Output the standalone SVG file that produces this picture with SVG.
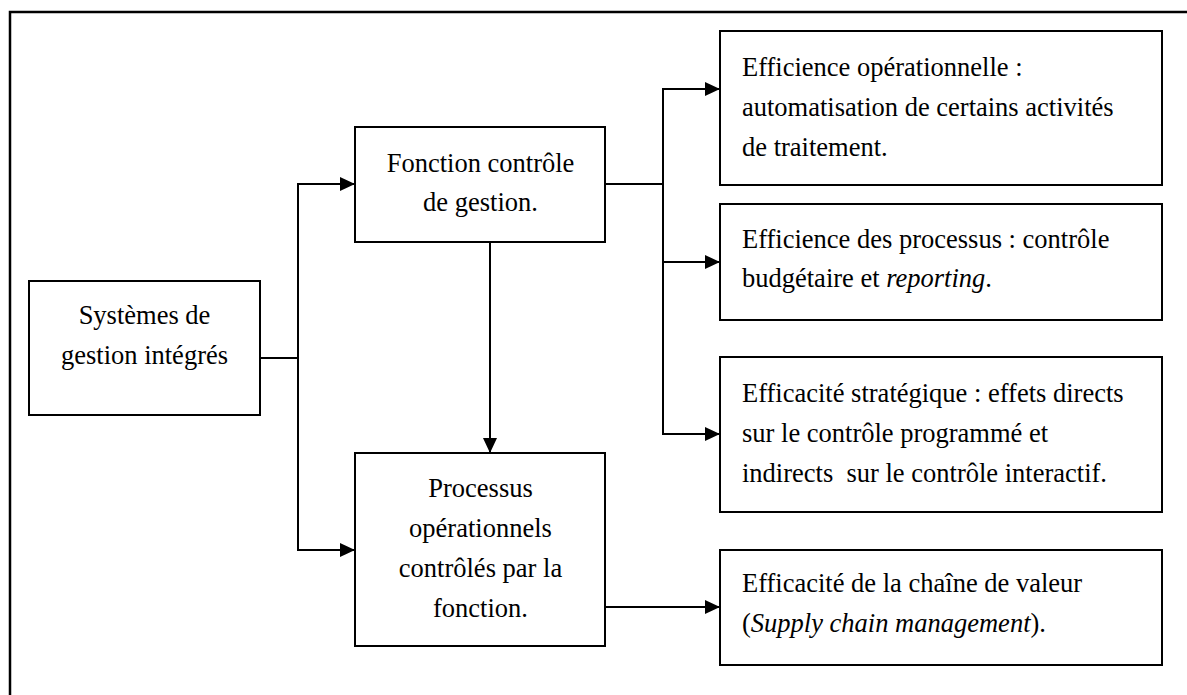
<svg xmlns="http://www.w3.org/2000/svg" width="1187" height="695" viewBox="0 0 1187 695">
<style>
.box{fill:#fff;stroke:#000;stroke-width:2}
.t{font-family:"Liberation Serif","Times New Roman",serif;font-size:26.5px;fill:#000;white-space:pre}
.c{text-anchor:middle}
.conn{fill:none;stroke:#000;stroke-width:2}
</style>
<defs>
<marker id="ah" markerUnits="userSpaceOnUse" markerWidth="15" markerHeight="14" refX="15" refY="7" orient="auto">
<path d="M0,0 L15,7 L0,14 z" fill="#000"/>
</marker>
</defs>
<rect width="1187" height="695" fill="#fff"/>
<path d="M10,695 V12 H1187" fill="none" stroke="#000" stroke-width="2.5"/>
<g id="connectors">
<path class="conn" d="M260,358 H298 V184 H355" marker-end="url(#ah)"/>
<path class="conn" d="M298,358 V550 H355" marker-end="url(#ah)"/>
<path class="conn" d="M490,242 V453" marker-end="url(#ah)"/>
<path class="conn" d="M605,184 H663 V89 H720" marker-end="url(#ah)"/>
<path class="conn" d="M663,184 V434 H720" marker-end="url(#ah)"/>
<path class="conn" d="M663,262 H720" marker-end="url(#ah)"/>
<path class="conn" d="M605,607 H720" marker-end="url(#ah)"/>
</g>
<g id="systemes">
<rect class="box" x="29" y="281" width="231" height="134"/>
<text class="t c" x="144.5" y="324">Systèmes de</text>
<text class="t c" x="144.5" y="364">gestion intégrés</text>
</g>
<g id="fonction">
<rect class="box" x="355" y="127" width="250" height="115"/>
<text class="t c" x="480.5" y="172">Fonction contrôle</text>
<text class="t c" x="480.5" y="211">de gestion.</text>
</g>
<g id="processus">
<rect class="box" x="355" y="453" width="250" height="193"/>
<text class="t c" x="480.5" y="497">Processus</text>
<text class="t c" x="480.5" y="537">opérationnels</text>
<text class="t c" x="480.5" y="577">contrôlés par la</text>
<text class="t c" x="480.5" y="617">fonction.</text>
</g>
<g id="efficience-op">
<rect class="box" x="720" y="31" width="442" height="154"/>
<text class="t" x="742" y="76">Efficience opérationnelle :</text>
<text class="t" x="742" y="116">automatisation de certains activités</text>
<text class="t" x="742" y="156">de traitement.</text>
</g>
<g id="efficience-proc">
<rect class="box" x="720" y="204" width="442" height="116"/>
<text class="t" x="742" y="248">Efficience des processus : contrôle</text>
<text class="t" x="742" y="287">budgétaire et <tspan font-style="italic">reporting</tspan>.</text>
</g>
<g id="efficacite-strat">
<rect class="box" x="720" y="357" width="442" height="155"/>
<text class="t" x="742" y="402">Efficacité stratégique : effets directs</text>
<text class="t" x="742" y="442">sur le contrôle programmé et</text>
<text class="t" x="742" y="482">indirects  sur le contrôle interactif.</text>
</g>
<g id="efficacite-chaine">
<rect class="box" x="720" y="550" width="442" height="115"/>
<text class="t" x="742" y="592">Efficacité de la chaîne de valeur</text>
<text class="t" x="742" y="632">(<tspan font-style="italic">Supply chain management</tspan>).</text>
</g>
</svg>
